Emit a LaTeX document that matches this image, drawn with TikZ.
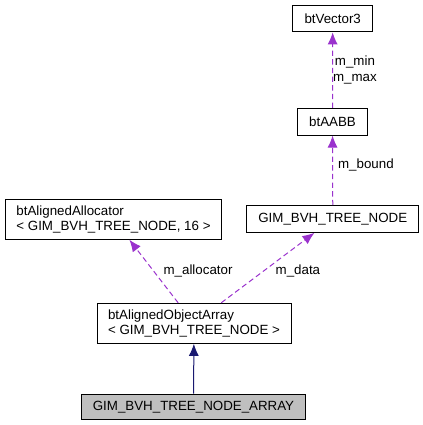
\documentclass[tikz,border=0pt]{standalone}
\usepackage{fontspec}
\setmainfont{Liberation Sans}
\usetikzlibrary{arrows.meta}
\definecolor{depcol}{HTML}{9A32CD}
\definecolor{inhcol}{HTML}{191970}
\definecolor{maincol}{HTML}{BFBFBF}
\begin{document}
\begin{tikzpicture}[x=0.75pt, y=-0.75pt]
	\tikzset{c/.style={draw=black, line width=0.75pt, fill=white, inner sep=0pt, align=left,
		font=\fontsize{10}{11.5}\selectfont},
	d/.style={->, >={Latex[length=9pt, width=7.5pt]}, depcol, line width=0.75pt, dash pattern=on 4pt off 2.5pt},
	i/.style={->, >={Latex[length=9pt, width=7.5pt]}, inhcol, line width=0.75pt},
	l/.style={black, inner sep=0pt, align=center, font=\fontsize{10}{11.5}\selectfont}};
	\useasboundingbox (0,0) rectangle (423,425);

	\node[c, minimum width=60pt, minimum height=20pt] (vec) at (332.7,18.5) {btVector3};
	\node[c, minimum width=52.5pt, minimum height=20pt] (aabb) at (332.5,121.7) {btAABB};
	\node[c, minimum width=129pt, minimum height=20pt] (node) at (332.8,219) {GIM\_BVH\_TREE\_NODE};
	\node[c, minimum width=162.5pt, minimum height=30pt] (alloc) at (113.5,219.2) {btAlignedAllocator\\< GIM\_BVH\_TREE\_NODE, 16 >};
	\node[c, minimum width=145.5pt, minimum height=30pt] (arr) at (194,323.3) {btAlignedObjectArray\\< GIM\_BVH\_TREE\_NODE >};
	\node[c, fill=maincol, minimum width=168.5pt, minimum height=19pt] (main) at (193.5,406.7) {GIM\_BVH\_TREE\_NODE\_ARRAY};

	\draw[d] (aabb) -- node[l, midway, right] {m\_min\\m\_max} (vec);
	\draw[d] (node) -- node[l, pos=.57, right=3.75pt] {m\_bound} (aabb);
	\draw[d] (arr) -- node[l, midway, right=7pt] {m\_allocator} (alloc);
	\draw[d] (arr) -- node[l, pos=.45, right=9pt] {m\_data} (node);
	\draw[i] (main) -- (arr);
\end{tikzpicture}
\end{document}
